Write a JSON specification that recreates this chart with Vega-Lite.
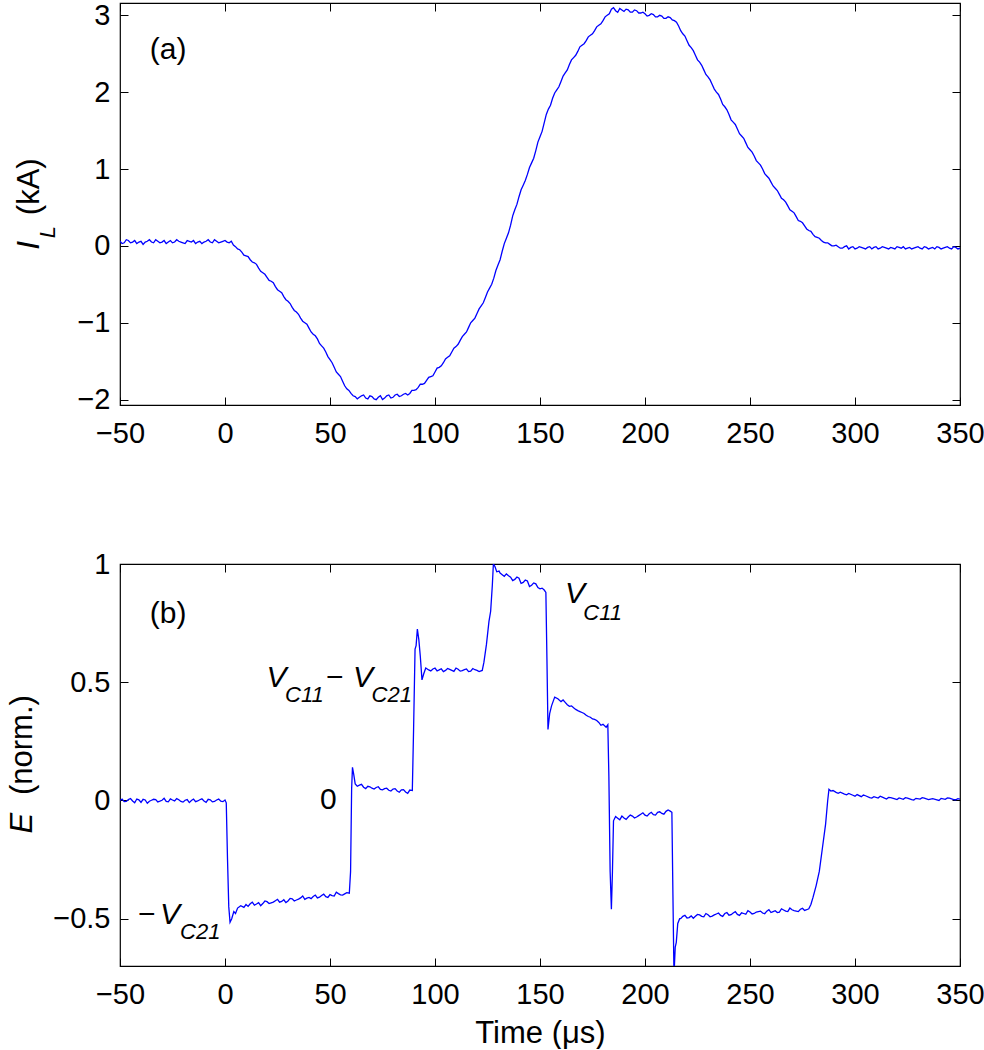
{
  "$schema": "https://vega.github.io/schema/vega-lite/v6.json",
  "background": "white",
  "padding": {"left": 6, "top": 0, "right": 0, "bottom": 0},
  "spacing": 159,
  "bounds": "flush",
  "config": {
    "font": "Liberation Sans",
    "view": {"stroke": "black", "strokeWidth": 1.2},
    "axis": {
      "domain": false, "grid": false, "tickColor": "black", "tickSize": -8, "tickWidth": 1,
      "labelFont": "Liberation Sans", "labelFontSize": 29, "labelColor": "black", "labelFlush": false, "labelOverlap": false,
      "titleFont": "Liberation Sans", "titleFontSize": 31, "titleColor": "black", "titleFontWeight": "normal"
    },
    "axisBottom": {"labelPadding": 22},
    "axisLeft": {"labelPadding": 18},
    "text": {"font": "Liberation Sans", "color": "black"}
  },
  "datasets": {
    "il": [
      {"t":-50,"v":0.06},{"t":-48,"v":0.04},{"t":-46,"v":0.07},{"t":-44,"v":0.05},{"t":-42,"v":0.03},{"t":-40,"v":0.06},{"t":-38,"v":0.05},{"t":-36,"v":0.08},{"t":-34,"v":0.04},{"t":-32,"v":0.06},{"t":-30,"v":0.05},{"t":-28,"v":0.03},{"t":-26,"v":0.07},{"t":-24,"v":0.05},{"t":-22,"v":0.06},{"t":-20,"v":0.04},{"t":-18,"v":0.07},{"t":-16,"v":0.05},{"t":-14,"v":0.03},{"t":-12,"v":0.06},{"t":-10,"v":0.05},{"t":-8,"v":0.08},{"t":-6,"v":0.04},{"t":-4,"v":0.06},{"t":-2,"v":0.05},{"t":0,"v":0.07},{"t":2,"v":0.04},{"t":4,"v":0.01},{"t":6,"v":-0.04},{"t":8,"v":-0.08},{"t":10,"v":-0.13},{"t":12,"v":-0.18},{"t":14,"v":-0.22},{"t":16,"v":-0.29},{"t":18,"v":-0.35},{"t":20,"v":-0.41},{"t":22,"v":-0.46},{"t":24,"v":-0.53},{"t":26,"v":-0.59},{"t":28,"v":-0.66},{"t":30,"v":-0.72},{"t":32,"v":-0.8},{"t":34,"v":-0.86},{"t":36,"v":-0.94},{"t":38,"v":-1.0},{"t":40,"v":-1.07},{"t":42,"v":-1.15},{"t":44,"v":-1.21},{"t":46,"v":-1.3},{"t":48,"v":-1.38},{"t":50,"v":-1.48},{"t":52,"v":-1.58},{"t":54,"v":-1.67},{"t":56,"v":-1.76},{"t":58,"v":-1.86},{"t":60,"v":-1.92},{"t":62,"v":-1.96},{"t":64,"v":-1.97},{"t":66,"v":-1.94},{"t":68,"v":-1.99},{"t":70,"v":-1.96},{"t":72,"v":-2.0},{"t":74,"v":-1.95},{"t":76,"v":-1.98},{"t":78,"v":-1.94},{"t":80,"v":-1.97},{"t":82,"v":-1.93},{"t":84,"v":-1.95},{"t":86,"v":-1.92},{"t":88,"v":-1.92},{"t":90,"v":-1.88},{"t":92,"v":-1.84},{"t":94,"v":-1.8},{"t":96,"v":-1.75},{"t":98,"v":-1.7},{"t":100,"v":-1.64},{"t":102,"v":-1.58},{"t":104,"v":-1.52},{"t":106,"v":-1.45},{"t":108,"v":-1.38},{"t":110,"v":-1.31},{"t":112,"v":-1.23},{"t":114,"v":-1.15},{"t":116,"v":-1.06},{"t":118,"v":-0.97},{"t":120,"v":-0.88},{"t":122,"v":-0.78},{"t":124,"v":-0.67},{"t":126,"v":-0.55},{"t":128,"v":-0.42},{"t":130,"v":-0.25},{"t":132,"v":-0.07},{"t":134,"v":0.1},{"t":136,"v":0.27},{"t":138,"v":0.47},{"t":140,"v":0.64},{"t":142,"v":0.79},{"t":144,"v":0.93},{"t":146,"v":1.08},{"t":148,"v":1.24},{"t":150,"v":1.42},{"t":152,"v":1.6},{"t":154,"v":1.78},{"t":156,"v":1.92},{"t":158,"v":2.03},{"t":160,"v":2.14},{"t":162,"v":2.25},{"t":164,"v":2.36},{"t":166,"v":2.45},{"t":168,"v":2.53},{"t":170,"v":2.61},{"t":172,"v":2.67},{"t":174,"v":2.74},{"t":176,"v":2.8},{"t":178,"v":2.87},{"t":180,"v":2.93},{"t":182,"v":3.0},{"t":184,"v":3.08},{"t":186,"v":3.06},{"t":188,"v":3.09},{"t":190,"v":3.05},{"t":192,"v":3.07},{"t":194,"v":3.04},{"t":196,"v":3.06},{"t":198,"v":3.03},{"t":200,"v":3.02},{"t":202,"v":3.0},{"t":204,"v":3.01},{"t":206,"v":2.98},{"t":208,"v":2.99},{"t":210,"v":2.96},{"t":212,"v":2.97},{"t":214,"v":2.93},{"t":216,"v":2.86},{"t":218,"v":2.76},{"t":220,"v":2.67},{"t":222,"v":2.58},{"t":224,"v":2.48},{"t":226,"v":2.39},{"t":228,"v":2.29},{"t":230,"v":2.2},{"t":232,"v":2.1},{"t":234,"v":2.0},{"t":236,"v":1.91},{"t":238,"v":1.81},{"t":240,"v":1.71},{"t":242,"v":1.61},{"t":244,"v":1.52},{"t":246,"v":1.43},{"t":248,"v":1.34},{"t":250,"v":1.25},{"t":252,"v":1.17},{"t":254,"v":1.08},{"t":256,"v":1.0},{"t":258,"v":0.91},{"t":260,"v":0.83},{"t":262,"v":0.75},{"t":264,"v":0.67},{"t":266,"v":0.6},{"t":268,"v":0.52},{"t":270,"v":0.45},{"t":272,"v":0.38},{"t":274,"v":0.32},{"t":276,"v":0.26},{"t":278,"v":0.2},{"t":280,"v":0.15},{"t":282,"v":0.11},{"t":284,"v":0.07},{"t":286,"v":0.04},{"t":288,"v":0.02},{"t":290,"v":0.0},{"t":292,"v":-0.01},{"t":294,"v":-0.03},{"t":296,"v":0.0},{"t":298,"v":-0.02},{"t":300,"v":-0.04},{"t":302,"v":-0.01},{"t":304,"v":-0.03},{"t":306,"v":-0.02},{"t":308,"v":-0.04},{"t":310,"v":-0.01},{"t":312,"v":-0.03},{"t":314,"v":-0.02},{"t":316,"v":-0.04},{"t":318,"v":-0.03},{"t":320,"v":-0.01},{"t":322,"v":-0.03},{"t":324,"v":-0.04},{"t":326,"v":-0.02},{"t":328,"v":-0.03},{"t":330,"v":-0.01},{"t":332,"v":-0.04},{"t":334,"v":-0.02},{"t":336,"v":-0.03},{"t":338,"v":-0.04},{"t":340,"v":-0.02},{"t":342,"v":-0.03},{"t":344,"v":-0.01},{"t":346,"v":-0.04},{"t":348,"v":-0.02},{"t":350,"v":-0.03},
      {"t":-49,"v":0.03},{"t":-47,"v":0.08},{"t":-45,"v":0.04},{"t":-43,"v":0.07},{"t":-41,"v":0.05},{"t":-39,"v":0.02},{"t":-37,"v":0.06},{"t":-35,"v":0.05},{"t":-33,"v":0.08},{"t":-31,"v":0.04},{"t":-29,"v":0.07},{"t":-27,"v":0.05},{"t":-25,"v":0.04},{"t":-23,"v":0.08},{"t":-21,"v":0.05},{"t":-19,"v":0.03},{"t":-17,"v":0.06},{"t":-15,"v":0.07},{"t":-13,"v":0.05},{"t":-11,"v":0.03},{"t":-9,"v":0.06},{"t":-7,"v":0.05},{"t":-5,"v":0.08},{"t":-3,"v":0.04},{"t":-1,"v":0.06},{"t":1,"v":0.05},{"t":3,"v":0.06},{"t":5,"v":-0.01},{"t":7,"v":-0.05},{"t":9,"v":-0.12},{"t":11,"v":-0.14},{"t":13,"v":-0.21},{"t":15,"v":-0.24},{"t":17,"v":-0.33},{"t":19,"v":-0.37},{"t":21,"v":-0.45},{"t":23,"v":-0.48},{"t":25,"v":-0.57},{"t":27,"v":-0.61},{"t":29,"v":-0.7},{"t":31,"v":-0.75},{"t":33,"v":-0.84},{"t":35,"v":-0.89},{"t":37,"v":-0.98},{"t":39,"v":-1.02},{"t":41,"v":-1.12},{"t":43,"v":-1.17},{"t":45,"v":-1.27},{"t":47,"v":-1.33},{"t":49,"v":-1.44},{"t":51,"v":-1.52},{"t":53,"v":-1.64},{"t":55,"v":-1.7},{"t":57,"v":-1.82},{"t":59,"v":-1.88},{"t":61,"v":-1.95},{"t":63,"v":-1.99},{"t":65,"v":-1.95},{"t":67,"v":-1.98},{"t":69,"v":-1.95},{"t":71,"v":-1.99},{"t":73,"v":-1.97},{"t":75,"v":-2.0},{"t":77,"v":-1.95},{"t":79,"v":-1.98},{"t":81,"v":-1.94},{"t":83,"v":-1.96},{"t":85,"v":-1.93},{"t":87,"v":-1.94},{"t":89,"v":-1.88},{"t":91,"v":-1.87},{"t":93,"v":-1.8},{"t":95,"v":-1.79},{"t":97,"v":-1.71},{"t":99,"v":-1.69},{"t":101,"v":-1.59},{"t":103,"v":-1.56},{"t":105,"v":-1.47},{"t":107,"v":-1.43},{"t":109,"v":-1.33},{"t":111,"v":-1.28},{"t":113,"v":-1.18},{"t":115,"v":-1.12},{"t":117,"v":-1.0},{"t":119,"v":-0.94},{"t":121,"v":-0.82},{"t":123,"v":-0.74},{"t":125,"v":-0.6},{"t":127,"v":-0.5},{"t":129,"v":-0.32},{"t":131,"v":-0.18},{"t":133,"v":0.03},{"t":135,"v":0.17},{"t":137,"v":0.39},{"t":139,"v":0.54},{"t":141,"v":0.73},{"t":143,"v":0.85},{"t":145,"v":1.02},{"t":147,"v":1.14},{"t":149,"v":1.35},{"t":151,"v":1.49},{"t":153,"v":1.71},{"t":155,"v":1.83},{"t":157,"v":1.99},{"t":159,"v":2.07},{"t":161,"v":2.21},{"t":163,"v":2.29},{"t":165,"v":2.42},{"t":167,"v":2.48},{"t":169,"v":2.59},{"t":171,"v":2.63},{"t":173,"v":2.72},{"t":175,"v":2.76},{"t":177,"v":2.85},{"t":179,"v":2.89},{"t":181,"v":2.98},{"t":183,"v":3.02},{"t":185,"v":3.1},{"t":187,"v":3.04},{"t":189,"v":3.07},{"t":191,"v":3.08},{"t":193,"v":3.04},{"t":195,"v":3.07},{"t":197,"v":3.03},{"t":199,"v":3.04},{"t":201,"v":2.99},{"t":203,"v":3.02},{"t":205,"v":2.98},{"t":207,"v":3.0},{"t":209,"v":2.96},{"t":211,"v":2.98},{"t":213,"v":2.94},{"t":215,"v":2.91},{"t":217,"v":2.8},{"t":219,"v":2.73},{"t":221,"v":2.61},{"t":223,"v":2.54},{"t":225,"v":2.42},{"t":227,"v":2.35},{"t":229,"v":2.23},{"t":231,"v":2.16},{"t":233,"v":2.04},{"t":235,"v":1.97},{"t":237,"v":1.84},{"t":239,"v":1.77},{"t":241,"v":1.64},{"t":243,"v":1.58},{"t":245,"v":1.46},{"t":247,"v":1.4},{"t":249,"v":1.28},{"t":251,"v":1.22},{"t":253,"v":1.11},{"t":255,"v":1.05},{"t":257,"v":0.94},{"t":259,"v":0.88},{"t":261,"v":0.78},{"t":263,"v":0.72},{"t":265,"v":0.62},{"t":267,"v":0.57},{"t":269,"v":0.47},{"t":271,"v":0.43},{"t":273,"v":0.33},{"t":275,"v":0.3},{"t":277,"v":0.22},{"t":279,"v":0.19},{"t":281,"v":0.12},{"t":283,"v":0.1},{"t":285,"v":0.05},{"t":287,"v":0.04},{"t":289,"v":0.0},{"t":291,"v":0.01},{"t":293,"v":-0.03},{"t":295,"v":-0.01},{"t":297,"v":-0.04},{"t":299,"v":-0.01},{"t":301,"v":-0.03},{"t":303,"v":-0.02},{"t":305,"v":-0.04},{"t":307,"v":-0.01},{"t":309,"v":-0.02},{"t":311,"v":-0.04},{"t":313,"v":-0.01},{"t":315,"v":-0.03},{"t":317,"v":-0.02},{"t":319,"v":-0.04},{"t":321,"v":-0.02},{"t":323,"v":-0.01},{"t":325,"v":-0.03},{"t":327,"v":-0.04},{"t":329,"v":-0.02},{"t":331,"v":-0.03},{"t":333,"v":-0.01},{"t":335,"v":-0.04},{"t":337,"v":-0.02},{"t":339,"v":-0.01},{"t":341,"v":-0.04},{"t":343,"v":-0.02},{"t":345,"v":-0.03},{"t":347,"v":-0.01},{"t":349,"v":-0.04}
    ],
    "e": [
      {"t":-50,"v":0.0},{"t":-48,"v":-0.005},{"t":-46,"v":0.004},{"t":-44,"v":-0.002},{"t":-42,"v":0.006},{"t":-40,"v":-0.008},{"t":-38,"v":0.002},{"t":-36,"v":-0.003},{"t":-34,"v":0.005},{"t":-32,"v":-0.006},{"t":-30,"v":0.001},{"t":-28,"v":-0.004},{"t":-26,"v":0.007},{"t":-24,"v":-0.002},{"t":-22,"v":0.003},{"t":-20,"v":-0.007},{"t":-18,"v":0.004},{"t":-16,"v":0.0},{"t":-14,"v":-0.005},{"t":-12,"v":0.003},{"t":-10,"v":-0.002},{"t":-8,"v":0.005},{"t":-6,"v":-0.006},{"t":-4,"v":0.002},{"t":-2,"v":-0.003},{"t":0,"v":0.002},
      {"t":-49,"v":0.006},{"t":-47,"v":-0.004},{"t":-45,"v":0.008},{"t":-43,"v":-0.01},{"t":-41,"v":0.003},{"t":-39,"v":0.005},{"t":-37,"v":-0.012},{"t":-35,"v":0.001},{"t":-33,"v":0.004},{"t":-31,"v":-0.003},{"t":-29,"v":0.009},{"t":-27,"v":-0.006},{"t":-25,"v":0.002},{"t":-23,"v":0.008},{"t":-21,"v":-0.004},{"t":-19,"v":0.001},{"t":-17,"v":-0.009},{"t":-15,"v":0.006},{"t":-13,"v":-0.002},{"t":-11,"v":0.007},{"t":-9,"v":-0.008},{"t":-7,"v":0.003},{"t":-5,"v":-0.004},{"t":-3,"v":0.006},{"t":-1,"v":-0.005},
      {"t":0.6,"v":-0.01},{"t":1.2,"v":-0.25},{"t":1.8,"v":-0.45},{"t":2.4,"v":-0.515},{"t":3.2,"v":-0.5},{"t":4.2,"v":-0.47},{"t":5,"v":-0.478},{"t":6,"v":-0.455},{"t":7.5,"v":-0.445},{"t":9,"v":-0.452},{"t":10,"v":-0.44},{"t":11,"v":-0.448},{"t":12,"v":-0.437},{"t":13,"v":-0.43},{"t":14,"v":-0.443},{"t":15,"v":-0.438},{"t":16,"v":-0.432},{"t":17,"v":-0.445},{"t":18,"v":-0.436},{"t":19,"v":-0.425},{"t":20,"v":-0.428},{"t":21,"v":-0.436},{"t":22,"v":-0.433},{"t":23,"v":-0.43},{"t":24,"v":-0.424},{"t":25,"v":-0.418},{"t":26,"v":-0.43},{"t":27,"v":-0.427},{"t":28,"v":-0.42},{"t":29,"v":-0.432},{"t":30,"v":-0.425},{"t":31,"v":-0.414},{"t":32,"v":-0.416},{"t":33,"v":-0.425},{"t":34,"v":-0.421},{"t":35,"v":-0.417},{"t":36,"v":-0.412},{"t":37,"v":-0.404},{"t":38,"v":-0.418},{"t":39,"v":-0.413},{"t":40,"v":-0.41},{"t":41,"v":-0.415},{"t":42,"v":-0.406},{"t":43,"v":-0.4},{"t":44,"v":-0.412},{"t":45,"v":-0.409},{"t":46,"v":-0.402},{"t":47,"v":-0.396},{"t":48,"v":-0.407},{"t":49,"v":-0.41},{"t":50,"v":-0.398},{"t":51,"v":-0.402},{"t":52,"v":-0.404},{"t":53,"v":-0.388},{"t":54,"v":-0.394},{"t":55,"v":-0.399},{"t":56,"v":-0.4},{"t":57,"v":-0.395},{"t":58,"v":-0.39},{"t":59.2,"v":-0.392},{"t":59.8,"v":-0.3},{"t":60.3,"v":0.05},{"t":60.7,"v":0.14},{"t":61.3,"v":0.11},{"t":62,"v":0.07},{"t":63,"v":0.06},{"t":64,"v":0.065},{"t":65,"v":0.068},{"t":66,"v":0.056},{"t":67,"v":0.05},{"t":68,"v":0.06},{"t":69,"v":0.058},{"t":70,"v":0.052},{"t":71,"v":0.048},{"t":72,"v":0.055},{"t":73,"v":0.058},{"t":74,"v":0.047},{"t":75,"v":0.045},{"t":76,"v":0.05},{"t":77,"v":0.052},{"t":78,"v":0.043},{"t":79,"v":0.04},{"t":80,"v":0.048},{"t":81,"v":0.05},{"t":82,"v":0.04},{"t":83,"v":0.035},{"t":84,"v":0.045},{"t":85,"v":0.046},{"t":86,"v":0.036},{"t":87,"v":0.03},{"t":88,"v":0.044},{"t":89.2,"v":0.042},{"t":89.8,"v":0.3},{"t":90.5,"v":0.64},{"t":91,"v":0.655},{"t":91.6,"v":0.725},{"t":92.3,"v":0.68},{"t":93,"v":0.61},{"t":93.8,"v":0.51},{"t":94.6,"v":0.535},{"t":95.6,"v":0.56},{"t":97,"v":0.552},{"t":98,"v":0.548},{"t":99,"v":0.556},{"t":100,"v":0.56},{"t":101,"v":0.548},{"t":102,"v":0.552},{"t":103,"v":0.557},{"t":104,"v":0.545},{"t":105,"v":0.55},{"t":106,"v":0.558},{"t":107,"v":0.554},{"t":108,"v":0.55},{"t":109,"v":0.546},{"t":110,"v":0.56},{"t":111,"v":0.555},{"t":112,"v":0.547},{"t":113,"v":0.549},{"t":114,"v":0.553},{"t":115,"v":0.556},{"t":116,"v":0.545},{"t":117,"v":0.547},{"t":118,"v":0.558},{"t":119,"v":0.553},{"t":120,"v":0.55},{"t":121,"v":0.545},{"t":122.5,"v":0.55},{"t":123.3,"v":0.585},{"t":124.5,"v":0.66},{"t":125.7,"v":0.757},{"t":126.5,"v":0.8},{"t":127.3,"v":0.91},{"t":127.8,"v":1.0},{"t":128.5,"v":0.99},{"t":129.4,"v":0.967},{"t":130.5,"v":0.97},{"t":131,"v":0.962},{"t":132,"v":0.955},{"t":133,"v":0.948},{"t":134,"v":0.958},{"t":135,"v":0.95},{"t":136,"v":0.944},{"t":137,"v":0.93},{"t":138,"v":0.935},{"t":139,"v":0.945},{"t":140,"v":0.94},{"t":141,"v":0.918},{"t":142,"v":0.922},{"t":143,"v":0.932},{"t":144,"v":0.928},{"t":145,"v":0.905},{"t":146,"v":0.91},{"t":147,"v":0.92},{"t":148,"v":0.916},{"t":149,"v":0.9},{"t":150,"v":0.895},{"t":151,"v":0.898},{"t":152,"v":0.89},{"t":152.8,"v":0.88},{"t":153.3,"v":0.6},{"t":153.8,"v":0.3},{"t":154.6,"v":0.367},{"t":155.5,"v":0.4},{"t":157,"v":0.437},{"t":158.5,"v":0.43},{"t":160,"v":0.418},{"t":161,"v":0.425},{"t":162,"v":0.415},{"t":163,"v":0.405},{"t":164,"v":0.398},{"t":165,"v":0.4},{"t":166,"v":0.392},{"t":167,"v":0.385},{"t":168,"v":0.38},{"t":169,"v":0.376},{"t":170,"v":0.372},{"t":171,"v":0.368},{"t":172,"v":0.36},{"t":173,"v":0.355},{"t":174,"v":0.352},{"t":175,"v":0.345},{"t":176,"v":0.343},{"t":177,"v":0.338},{"t":178,"v":0.33},{"t":179,"v":0.318},{"t":180,"v":0.322},{"t":181.5,"v":0.31},{"t":182.3,"v":0.32},{"t":182.8,"v":0.1},{"t":183.4,"v":-0.3},{"t":184,"v":-0.46},{"t":184.5,"v":-0.3},{"t":185,"v":-0.086},{"t":186,"v":-0.068},{"t":187,"v":-0.075},{"t":188,"v":-0.082},{"t":189,"v":-0.066},{"t":190,"v":-0.074},{"t":191,"v":-0.08},{"t":192,"v":-0.07},{"t":193,"v":-0.062},{"t":194,"v":-0.066},{"t":195,"v":-0.074},{"t":196,"v":-0.07},{"t":197,"v":-0.064},{"t":198,"v":-0.058},{"t":199,"v":-0.052},{"t":200,"v":-0.062},{"t":201,"v":-0.066},{"t":202,"v":-0.056},{"t":203,"v":-0.05},{"t":204,"v":-0.06},{"t":205,"v":-0.062},{"t":206,"v":-0.05},{"t":207,"v":-0.048},{"t":208,"v":-0.055},{"t":209,"v":-0.058},{"t":210,"v":-0.046},{"t":211,"v":-0.04},{"t":212,"v":-0.045},{"t":212.8,"v":-0.05},{"t":213.3,"v":-0.4},{"t":213.8,"v":-0.74},{"t":214.4,"v":-0.62},{"t":214.9,"v":-0.6},{"t":215.6,"v":-0.52},{"t":216.5,"v":-0.5},{"t":217,"v":-0.5},{"t":218,"v":-0.49},{"t":219,"v":-0.486},{"t":220,"v":-0.497},{"t":221,"v":-0.495},{"t":222,"v":-0.488},{"t":223,"v":-0.498},{"t":224,"v":-0.49},{"t":225,"v":-0.482},{"t":226,"v":-0.484},{"t":227,"v":-0.49},{"t":228,"v":-0.492},{"t":229,"v":-0.478},{"t":230,"v":-0.483},{"t":231,"v":-0.492},{"t":232,"v":-0.489},{"t":233,"v":-0.484},{"t":234,"v":-0.48},{"t":235,"v":-0.476},{"t":236,"v":-0.486},{"t":237,"v":-0.49},{"t":238,"v":-0.478},{"t":239,"v":-0.474},{"t":240,"v":-0.485},{"t":241,"v":-0.483},{"t":242,"v":-0.476},{"t":243,"v":-0.47},{"t":244,"v":-0.482},{"t":245,"v":-0.486},{"t":246,"v":-0.475},{"t":247,"v":-0.478},{"t":248,"v":-0.481},{"t":249,"v":-0.466},{"t":250,"v":-0.472},{"t":251,"v":-0.48},{"t":252,"v":-0.478},{"t":253,"v":-0.472},{"t":254,"v":-0.47},{"t":255,"v":-0.468},{"t":256,"v":-0.476},{"t":257,"v":-0.479},{"t":258,"v":-0.468},{"t":259,"v":-0.462},{"t":260,"v":-0.474},{"t":261,"v":-0.47},{"t":262,"v":-0.466},{"t":263,"v":-0.474},{"t":264,"v":-0.472},{"t":265,"v":-0.458},{"t":266,"v":-0.463},{"t":267,"v":-0.468},{"t":268,"v":-0.47},{"t":269,"v":-0.455},{"t":270,"v":-0.462},{"t":271,"v":-0.466},{"t":272,"v":-0.468},{"t":273,"v":-0.47},{"t":274,"v":-0.46},{"t":275,"v":-0.456},{"t":276,"v":-0.465},{"t":277,"v":-0.462},{"t":278,"v":-0.458},{"t":279,"v":-0.44},{"t":280,"v":-0.41},{"t":281.5,"v":-0.36},{"t":283,"v":-0.3},{"t":284.5,"v":-0.2},{"t":286,"v":-0.1},{"t":287,"v":0.0},{"t":287.6,"v":0.047},{"t":288.5,"v":0.04},{"t":289.5,"v":0.042},{"t":291,"v":0.034},{"t":292,"v":0.03},{"t":293,"v":0.035},{"t":295,"v":0.027},{"t":296,"v":0.024},{"t":297,"v":0.03},{"t":299,"v":0.022},{"t":300,"v":0.018},{"t":301,"v":0.025},{"t":303,"v":0.016},{"t":304,"v":0.023},{"t":305,"v":0.02},{"t":307,"v":0.012},{"t":308,"v":0.01},{"t":309,"v":0.016},{"t":311,"v":0.01},{"t":312,"v":0.018},{"t":313,"v":0.014},{"t":315,"v":0.006},{"t":316,"v":0.013},{"t":317,"v":0.012},{"t":319,"v":0.007},{"t":320,"v":0.004},{"t":321,"v":0.011},{"t":323,"v":0.005},{"t":324,"v":0.012},{"t":325,"v":0.01},{"t":327,"v":0.004},{"t":328,"v":0.002},{"t":329,"v":0.009},{"t":331,"v":0.006},{"t":332,"v":0.012},{"t":333,"v":0.01},{"t":335,"v":0.004},{"t":336,"v":0.006},{"t":337,"v":0.008},{"t":339,"v":0.003},{"t":340,"v":0.0},{"t":341,"v":0.009},{"t":343,"v":0.005},{"t":344,"v":0.011},{"t":345,"v":0.01},{"t":347,"v":0.004},{"t":348,"v":0.003},{"t":349,"v":0.008},{"t":350,"v":0.006}
    ]
  },
  "vconcat": [
    {
      "width": 840,
      "height": 402,
      "resolve": {"axis": {"x": "independent", "y": "independent"}},
      "layer": [
        {
          "data": {"name": "il"},
          "mark": {"type": "line", "color": "#0000ff", "strokeWidth": 1.3, "clip": true},
          "encoding": {
            "x": {"field": "t", "type": "quantitative", "scale": {"domain": [-50, 350], "nice": false, "zero": false},
                  "axis": {"orient": "bottom", "values": [-50, 0, 50, 100, 150, 200, 250, 300, 350], "format": "d", "title": null}},
            "y": {"field": "v", "type": "quantitative", "scale": {"domain": [-2.07, 3.16], "nice": false, "zero": false},
                  "axis": {"orient": "left", "values": [-2, -1, 0, 1, 2, 3], "format": "d", "title": null}}
          }
        },
        {
          "data": {"name": "il"},
          "mark": {"type": "line", "strokeOpacity": 0},
          "encoding": {
            "x": {"field": "t", "type": "quantitative", "axis": {"orient": "top", "values": [-50, 0, 50, 100, 150, 200, 250, 300, 350], "labels": false, "title": null}},
            "y": {"field": "v", "type": "quantitative", "axis": {"orient": "right", "values": [-2, -1, 0, 1, 2, 3], "labels": false, "title": null}}
          }
        },
        {
          "data": {"values": [{"label": "(a)", "t": -27.1, "v": 2.55}]},
          "mark": {"type": "text", "fontSize": 30, "align": "center", "baseline": "middle"},
          "encoding": {"x": {"field": "t", "type": "quantitative", "axis": null}, "y": {"field": "v", "type": "quantitative", "axis": null}, "text": {"field": "label"}}
        },
        {
          "data": {"values": [{"label": "I", "t": -88.5, "v": -0.05}]},
          "mark": {"type": "text", "fontSize": 32, "fontStyle": "italic", "angle": 270, "align": "left", "baseline": "alphabetic"},
          "encoding": {"x": {"field": "t", "type": "quantitative", "axis": null}, "y": {"field": "v", "type": "quantitative", "axis": null}, "text": {"field": "label"}}
        },
        {
          "data": {"values": [{"label": "L", "t": -80.9, "v": 0.1}]},
          "mark": {"type": "text", "fontSize": 22, "fontStyle": "italic", "angle": 270, "align": "left", "baseline": "alphabetic"},
          "encoding": {"x": {"field": "t", "type": "quantitative", "axis": null}, "y": {"field": "v", "type": "quantitative", "axis": null}, "text": {"field": "label"}}
        },
        {
          "data": {"values": [{"label": "(kA)", "t": -88.5, "v": 0.4}]},
          "mark": {"type": "text", "fontSize": 31, "angle": 270, "align": "left", "baseline": "alphabetic"},
          "encoding": {"x": {"field": "t", "type": "quantitative", "axis": null}, "y": {"field": "v", "type": "quantitative", "axis": null}, "text": {"field": "label"}}
        }
      ]
    },
    {
      "width": 840,
      "height": 402,
      "resolve": {"axis": {"x": "independent", "y": "independent"}},
      "layer": [
        {
          "data": {"name": "e"},
          "mark": {"type": "line", "color": "#0000ff", "strokeWidth": 1.3, "clip": true},
          "encoding": {
            "x": {"field": "t", "type": "quantitative", "scale": {"domain": [-50, 350], "nice": false, "zero": false},
                  "axis": {"orient": "bottom", "values": [-50, 0, 50, 100, 150, 200, 250, 300, 350], "format": "d", "title": "Time (μs)", "titleY": 52, "titleBaseline": "top"}},
            "y": {"field": "v", "type": "quantitative", "scale": {"domain": [-0.7, 1], "nice": false, "zero": false},
                  "axis": {"orient": "left", "values": [-0.5, 0, 0.5, 1], "format": ".1~f", "title": null}}
          }
        },
        {
          "data": {"name": "e"},
          "mark": {"type": "line", "strokeOpacity": 0},
          "encoding": {
            "x": {"field": "t", "type": "quantitative", "axis": {"orient": "top", "values": [-50, 0, 50, 100, 150, 200, 250, 300, 350], "labels": false, "title": null}},
            "y": {"field": "v", "type": "quantitative", "axis": {"orient": "right", "values": [-0.5, 0, 0.5, 1], "labels": false, "title": null}}
          }
        },
        {
          "data": {"values": [{"label": "(b)", "t": -27.1, "v": 0.788}, {"label": "0", "t": 49.2, "v": 0.0}]},
          "mark": {"type": "text", "fontSize": 30, "align": "center", "baseline": "middle"},
          "encoding": {"x": {"field": "t", "type": "quantitative", "axis": null}, "y": {"field": "v", "type": "quantitative", "axis": null}, "text": {"field": "label"}}
        },
        {
          "data": {"values": [{"label": "V", "t": 19.8, "v": 0.479}, {"label": "V", "t": 61.0, "v": 0.479}, {"label": "V", "t": 161.9, "v": 0.835}, {"label": "V", "t": -31.0, "v": -0.523}]},
          "mark": {"type": "text", "fontSize": 30, "fontStyle": "italic", "align": "left", "baseline": "alphabetic"},
          "encoding": {"x": {"field": "t", "type": "quantitative", "axis": null}, "y": {"field": "v", "type": "quantitative", "axis": null}, "text": {"field": "label"}}
        },
        {
          "data": {"values": [{"label": "−", "t": 48.1, "v": 0.479}, {"label": "−", "t": -41.4, "v": -0.523}]},
          "mark": {"type": "text", "fontSize": 30, "align": "left", "baseline": "alphabetic"},
          "encoding": {"x": {"field": "t", "type": "quantitative", "axis": null}, "y": {"field": "v", "type": "quantitative", "axis": null}, "text": {"field": "label"}}
        },
        {
          "data": {"values": [{"label": "C11", "t": 28.6, "v": 0.417}, {"label": "C21", "t": 69.8, "v": 0.417}, {"label": "C11", "t": 170.6, "v": 0.764}, {"label": "C21", "t": -21.4, "v": -0.585}]},
          "mark": {"type": "text", "fontSize": 22, "fontStyle": "italic", "align": "left", "baseline": "alphabetic"},
          "encoding": {"x": {"field": "t", "type": "quantitative", "axis": null}, "y": {"field": "v", "type": "quantitative", "axis": null}, "text": {"field": "label"}}
        },
        {
          "data": {"values": [{"label": "E", "t": -92.0, "v": -0.14}]},
          "mark": {"type": "text", "fontSize": 31, "fontStyle": "italic", "angle": 270, "align": "left", "baseline": "alphabetic"},
          "encoding": {"x": {"field": "t", "type": "quantitative", "axis": null}, "y": {"field": "v", "type": "quantitative", "axis": null}, "text": {"field": "label"}}
        },
        {
          "data": {"values": [{"label": "(norm.)", "t": -92.0, "v": 0.023}]},
          "mark": {"type": "text", "fontSize": 31, "angle": 270, "align": "left", "baseline": "alphabetic"},
          "encoding": {"x": {"field": "t", "type": "quantitative", "axis": null}, "y": {"field": "v", "type": "quantitative", "axis": null}, "text": {"field": "label"}}
        }
      ]
    }
  ]
}
